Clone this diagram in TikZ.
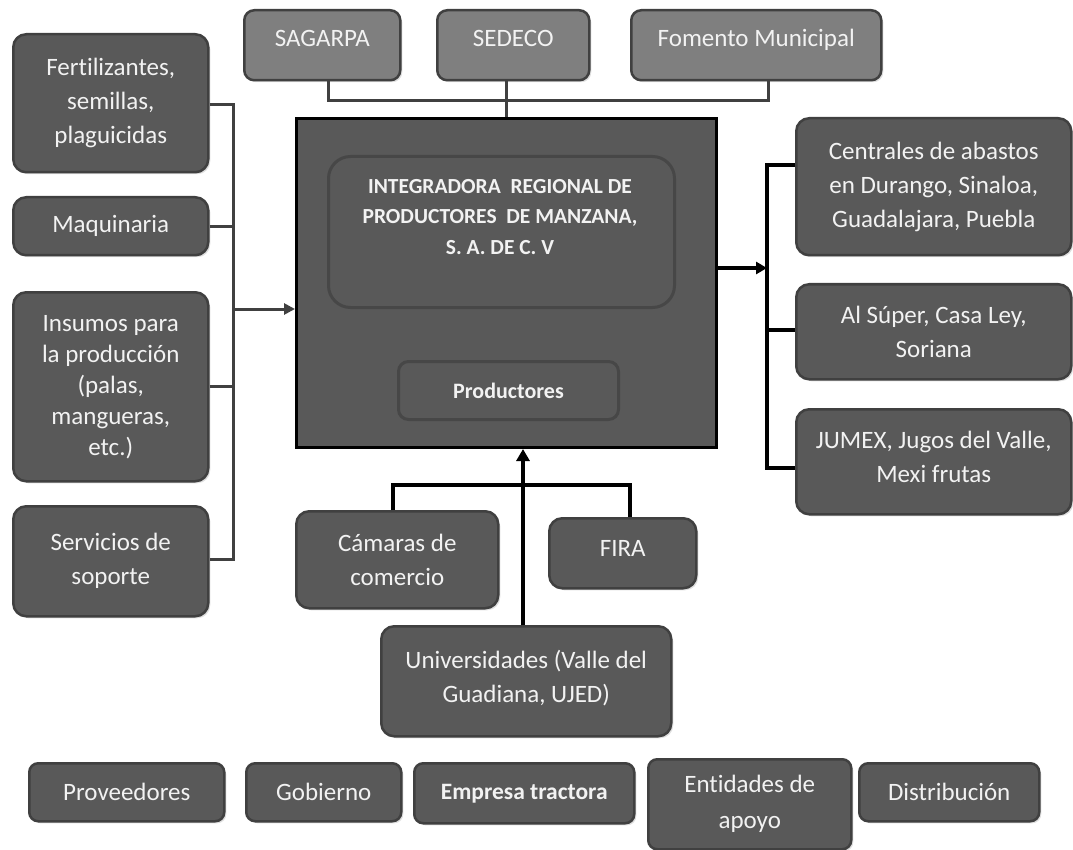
\documentclass[tikz,border=0pt]{standalone}
\usepackage{fontspec}
\setmainfont{Carlito}[Ligatures=NoCommon]
\usetikzlibrary{shadows,arrows.meta}
\definecolor{boxfill}{HTML}{595959}
\definecolor{boxedge}{HTML}{404040}
\definecolor{topfill}{HTML}{7F7F7F}
\definecolor{inneredge}{HTML}{474747}
\definecolor{txt}{HTML}{F2F2F2}
\tikzset{
  gbox/.style={draw=boxedge, line width=2.5pt, fill=boxfill, rounded corners=13pt,
    text=txt, align=center, font=\fontsize{25}{34}\selectfont, inner sep=0pt,
    anchor=north west, drop shadow={opacity=0.25, shadow xshift=2pt, shadow yshift=-2pt}},
  tbox/.style={gbox, fill=topfill, rounded corners=10pt, font=\fontsize{25}{34}\selectfont},
  lbox/.style={gbox, rounded corners=9pt, font=\fontsize{25}{36}\selectfont},
  mainbox/.style={draw=black, line width=3pt, fill=boxfill, anchor=north west, inner sep=0pt},
  innerbox/.style={draw=inneredge, line width=3pt, anchor=north west, inner sep=0pt},
  ctext/.style={text=txt, align=center, font=\fontsize{21.5}{30.5}\selectfont\bfseries},
  grayline/.style={draw=boxedge, line width=3pt},
  blackline/.style={draw=black, line width=3.5pt},
  thickline/.style={draw=black, line width=4pt},
  garrow/.style={grayline, -{Triangle[length=11pt,width=11pt]}},
  barrow/.style={blackline, -{Triangle[length=11pt,width=12pt]}},
  uarrow/.style={thickline, -{Triangle[length=12pt,width=13pt]}},
}
\begin{document}
\begin{tikzpicture}[x=1pt,y=-1pt]
\useasboundingbox (0,0) rectangle (1073,850);

% central box
\node[mainbox, minimum width=420pt, minimum height=329pt] (main) at (295,117) {};
\node[innerbox, rounded corners=22pt, minimum width=346pt, minimum height=151pt] (integ) at (327,155) {};
\node[ctext] (integt) at (500,217) {INTEGRADORA~~REGIONAL DE\\PRODUCTORES~~DE MANZANA,\\S. A. DE C. V};
\node[innerbox, rounded corners=10pt, minimum width=220pt, minimum height=58pt, ctext, font=\fontsize{22}{26}\selectfont\bfseries] (prod) at (397,360) {Productores};

% top boxes
\node[tbox, minimum width=156pt, minimum height=70pt] (sag) at (243,9) {SAGARPA\\[-20pt]};
\node[tbox, minimum width=152pt, minimum height=70pt] (sed) at (436,9) {SEDECO\\[-20pt]};
\node[tbox, minimum width=250pt, minimum height=70pt] (fom) at (630,9) {Fomento Municipal\\[-20pt]};

% left boxes
\node[gbox, minimum width=195pt, minimum height=138pt] (fert) at (12,33) {Fertilizantes,\\semillas,\\plaguicidas};
\node[gbox, minimum width=195pt, minimum height=58pt] (maq) at (12,196) {Maquinaria};
\node[gbox, minimum width=195pt, minimum height=189pt, font=\fontsize{25}{31}\selectfont] (ins) at (12,291) {Insumos para\\la producción\\(palas,\\mangueras,\\etc.)};
\node[gbox, minimum width=195pt, minimum height=110pt] (serv) at (12,505) {Servicios de\\soporte};

% right boxes
\node[gbox, minimum width=275pt, minimum height=137pt] (cen) at (795,117) {Centrales de abastos\\en Durango, Sinaloa,\\Guadalajara, Puebla};
\node[gbox, minimum width=275pt, minimum height=95pt] (sup) at (795,283) {Al Súper, Casa Ley,\\Soriana};
\node[gbox, minimum width=275pt, minimum height=105pt] (jum) at (795,408) {JUMEX, Jugos del Valle,\\Mexi frutas\\[-24pt]};

% bottom boxes
\node[gbox, minimum width=202pt, minimum height=97pt] (cam) at (295,510) {Cámaras de\\comercio};
\node[gbox, minimum width=147pt, minimum height=70pt] (fira) at (548,517) {FIRA\\[-24pt]};
\node[gbox, minimum width=290pt, minimum height=110pt] (uni) at (380,625) {Universidades (Valle del\\Guadiana, UJED)\\[-24pt]};

% legend
\node[lbox, minimum width=195pt, minimum height=58pt] (lprov) at (28,762) {Proveedores};
\node[lbox, minimum width=155pt, minimum height=58pt] (lgob) at (245,762) {Gobierno};
\node[lbox, minimum width=220pt, minimum height=60pt, font=\fontsize{23.5}{28}\selectfont\bfseries] (lemp) at (413,762) {Empresa tractora};
\node[lbox, minimum width=203pt, minimum height=90pt] (lent) at (647,758) {Entidades de\\apoyo};
\node[lbox, minimum width=180pt, minimum height=58pt] (ldis) at (858,762) {Distribución};

% top bracket
\coordinate (tl) at (328,101);
\coordinate (tr) at (768,101);
\draw[grayline] (sag.south -| tl) -- (tl) -- (tr) -- (fom.south -| tr);
\draw[grayline] (sed.south -| main.north) -- (main.north);

% left bracket
\coordinate (lt) at (233,105);
\coordinate (lb) at (233,559);
\coordinate (la) at (233,309);
\draw[grayline] (fert.east |- lt) -- (lt) -- (lb) -- (serv.east |- lb);
\draw[grayline] (maq.east) -- (maq.east -| lt);
\draw[grayline] (ins.east) -- (ins.east -| lt);
\draw[garrow] (la) -- (main.west |- la);

% right bracket
\coordinate (rt) at (767,165);
\coordinate (rb) at (767,468);
\coordinate (ra) at (767,268);
\draw[blackline] (cen.west |- rt) -- (rt) -- (rb) -- (jum.west |- rb);
\draw[blackline] (sup.west |- 0,330) -- (rt |- 0,330);
\draw[barrow] (main.east |- ra) -- (ra);

% bottom bracket
\coordinate (bl) at (393,485);
\coordinate (br) at (630,485);
\coordinate (bu) at (523,625);
\draw[thickline] (cam.north -| bl) -- (bl) -- (br) -- (fira.north -| br);
\draw[uarrow] (uni.north -| bu) -- (main.south -| bu);
\end{tikzpicture}
\end{document}
